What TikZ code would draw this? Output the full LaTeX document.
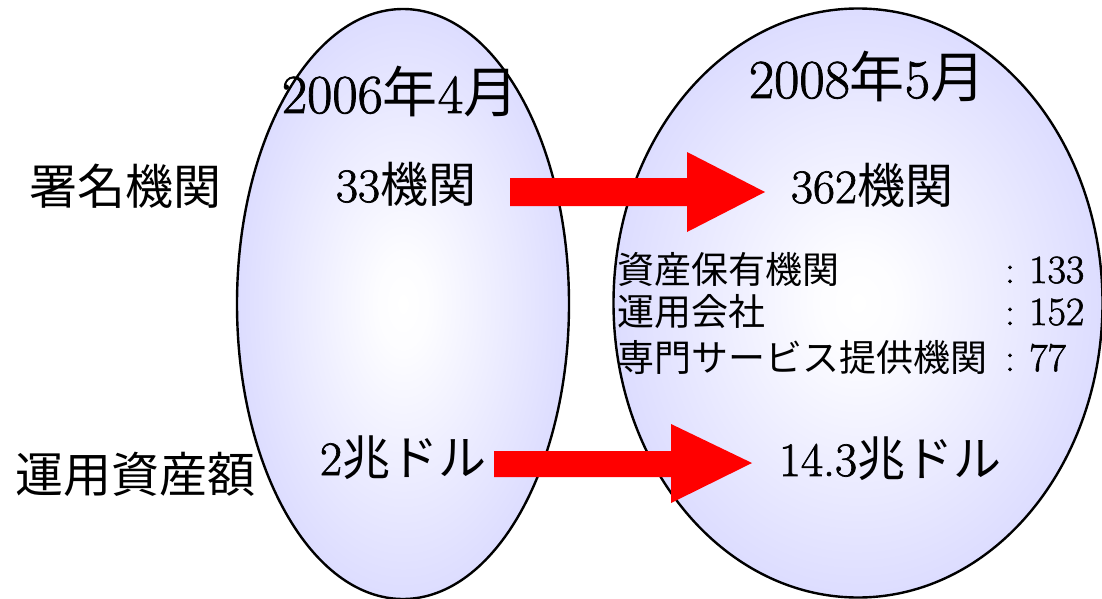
\documentclass[tikz,border=0pt]{standalone}
\usepackage{fontspec}
\setmainfont{Latin Modern Roman}[FakeBold=1.4]
\newfontfamily\cjk{Noto Sans CJK JP}
\usetikzlibrary{shapes.geometric}
\pgfdeclareradialshading{blob}{\pgfpoint{0bp}{0bp}}{rgb(0bp)=(1,1,1); rgb(4bp)=(0.99,0.99,1); rgb(36bp)=(0.8,0.8,1); rgb(50bp)=(0.8,0.8,1)}
\tikzset{
  blobnode/.style={ellipse, draw=black, line width=2.4pt, shade, shading=blob, inner sep=0pt, outer sep=0pt},
  bigarrow/.style={fill=red},
  bigtext/.style={font=\fontsize{55}{60}\selectfont, inner sep=0pt, anchor=base},
  midtext/.style={font=\fontsize{48}{52}\selectfont, inner sep=0pt, anchor=base},
  labtext/.style={font=\cjk\fontsize{48}{52}\selectfont, inner sep=0pt, anchor=base},
  rowtext/.style={font=\fontsize{37}{40}\selectfont, inner sep=0pt, anchor=base west},
  numtext/.style={font=\fontsize{40}{44}\selectfont, inner sep=0pt, anchor=base west},
  colontext/.style={font=\fontsize{40}{44}\selectfont, inner sep=0pt, anchor=base}
}
\begin{document}
\begin{tikzpicture}[x=1pt,y=-1pt]
\useasboundingbox (0,0) rectangle (1102,599);
% ellipses
\node[blobnode, minimum width=332pt, minimum height=590pt] (L) at (403,304) {};
\node[blobnode, minimum width=489pt, minimum height=589pt] (R) at (858,303) {};
% arrows
\path[bigarrow] (510,178) -- (687,178) -- (687,152) -- (765,192) -- (687,232) -- (687,206) -- (510,206) -- cycle;
\path[bigarrow] (494,451) -- (671,451) -- (671,424) -- (752,463) -- (671,503) -- (671,477) -- (494,477) -- cycle;
% titles
\node[bigtext] (t1) at (400,113) {2006{\cjk 年}4{\cjk 月}};
\node[bigtext] (t2) at (867,98) {2008{\cjk 年}5{\cjk 月}};
% values
\node[midtext] (a1) at (406,202) {33{\cjk 機関}};
\node[midtext] (b1) at (872,203) {362{\cjk 機関}};
\node[midtext] (a2) at (403,475) {2{\cjk 兆ドル}};
\node[midtext] (b2) at (890,476) {14.3{\cjk 兆ドル}};
% left labels
\node[labtext] (l1) at (125,204) {署名機関};
\node[labtext] (l2) at (135,492) {運用資産額};
% breakdown
\node[rowtext] (r1) at (617,283) {\cjk 資産保有機関};
\node[rowtext] (r2) at (617,325) {\cjk 運用会社};
\node[rowtext] (r3) at (617,371) {\cjk 専門サービス提供機関};
\node[colontext] (c1) at (1010,283) {:};
\node[colontext] (c2) at (1010,325) {:};
\node[colontext] (c3) at (1010,371) {:};
\node[numtext] (n1) at (1029,283) {133};
\node[numtext] (n2) at (1029,325) {152};
\node[numtext] (n3) at (1029,371) {77};
\end{tikzpicture}
\end{document}
